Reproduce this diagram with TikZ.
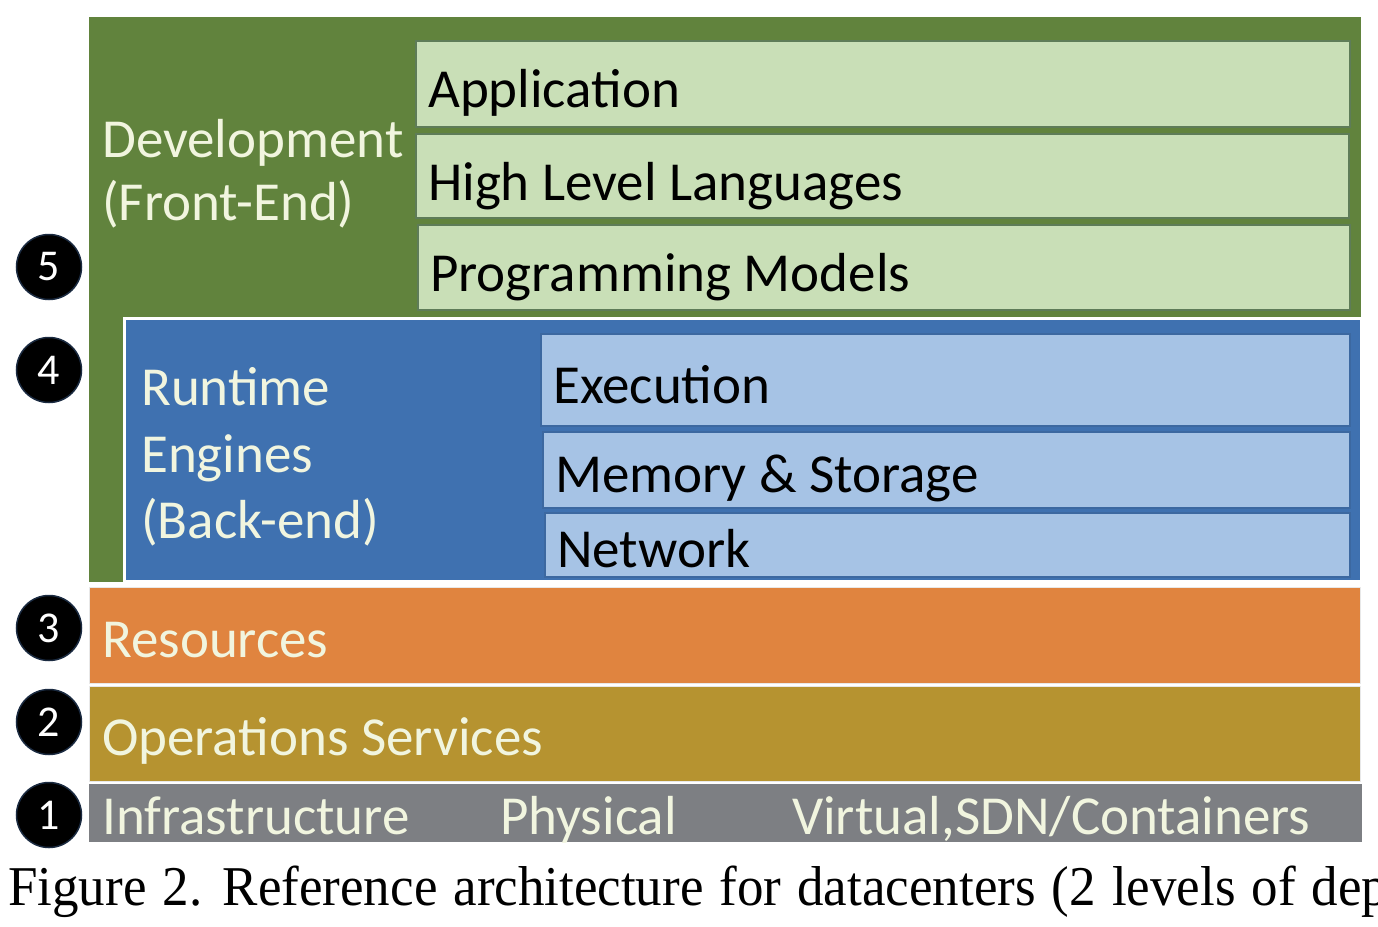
\documentclass[tikz,border=0pt]{standalone}
\usepackage{fontspec}
\setmainfont{Carlito}
\newfontfamily\capfont{Liberation Serif}
\usetikzlibrary{fit}
\definecolor{devgreen}{HTML}{61833D}
\definecolor{lightgreen}{HTML}{C9DFB7}
\definecolor{sepgreen}{HTML}{5E7C58}
\definecolor{rtblue}{HTML}{3F71B0}
\definecolor{lightblue}{HTML}{A6C3E5}
\definecolor{sepblue}{HTML}{3C68A0}
\definecolor{resorange}{HTML}{E0843F}
\definecolor{opsolive}{HTML}{B69330}
\definecolor{infgray}{HTML}{7D7F83}
\definecolor{lighttext}{HTML}{F1F5DF}
\definecolor{circedge}{HTML}{1A2A40}
\tikzset{
  layerbox/.style={rectangle, inner sep=0pt, outer sep=0pt},
  subgreen/.style={layerbox, fill=lightgreen, draw=sepgreen, line width=2pt},
  subblue/.style={layerbox, fill=lightblue, draw=sepblue, line width=2pt},
  darklbl/.style={inner sep=0pt, anchor=base west, text=lighttext, font=\fontsize{55}{66}\selectfont},
  blacklbl/.style={inner sep=0pt, anchor=base west, text=black, font=\fontsize{55}{66}\selectfont},
  numcirc/.style={circle, fill=black, draw=circedge, line width=1.5pt, minimum size=65pt, inner sep=0pt, text=white, font=\fontsize{44}{50}\selectfont}
}
\begin{document}
\begin{tikzpicture}[x=1pt,y=-1pt]
\useasboundingbox (0,0) rectangle (1378,926);
\clip (0,0) rectangle (1378,926);
% Layer 5: development (front-end)
\node[layerbox, fill=devgreen, fit={(89,17) (1361,582)}] (dev) {};
\node[subgreen, fit={(416,41) (1350,127)}] (app) {};
\node[subgreen, fit={(416,134) (1349,218)}] (hll) {};
\node[subgreen, fit={(418,225) (1350,310)}] (pm) {};
\node[darklbl] (devtxt) at (102,157) {Development};
\node[darklbl] (fetxt) at (102,220) {(Front-End)};
\node[blacklbl] (apptxt) at (428,107) {Application};
\node[blacklbl] (hlltxt) at (428,200) {High Level Languages};
\node[blacklbl] (pmtxt) at (430,291) {Programming Models};
% Layer 4: runtime engines (back-end)
\node[layerbox, fill=rtblue, draw=white, line width=3pt, fit={(124,318) (1361,581)}] (rt) {};
\node[subblue, fit={(541,334) (1350,426)}] (exec) {};
\node[subblue, fit={(543,432) (1350,508)}] (mem) {};
\node[subblue, fit={(545,513) (1350,577)}] (net) {};
\node[darklbl] (rttxt) at (141,405) {Runtime};
\node[darklbl] (engtxt) at (141,472) {Engines};
\node[darklbl] (betxt) at (141,538) {(Back-end)};
\node[blacklbl] (exectxt) at (553,403) {Execution};
\node[blacklbl] (memtxt) at (555,492) {Memory \& Storage};
\node[blacklbl] (nettxt) at (557,567) {Network};
% Layer 3: resources
\node[layerbox, fill=resorange, draw=white!82!gray, line width=1pt, fit={(89,587) (1360,683)}] (res) {};
\node[darklbl] (restxt) at (102,657) {Resources};
% Layer 2: operations services
\node[layerbox, fill=opsolive, draw=white!82!gray, line width=1pt, fit={(89,686) (1360,781)}] (ops) {};
\node[darklbl] (opstxt) at (102,755) {Operations Services};
% Layer 1: infrastructure
\node[layerbox, fill=infgray, fit={(89,784) (1362,842)}] (inf) {};
\begin{scope}
\clip (89,784) rectangle (1362,842);
\node[darklbl] (inftxt) at (102,834) {Infrastructure};
\node[darklbl] (phystxt) at (500,834) {Physical};
\node[darklbl] (virttxt) at (792,834) {Virtual,SDN/Containers};
\end{scope}
% numbered circles
\node[numcirc] (c5) at (49,267) {5};
\node[numcirc] (c4) at (49,370) {4};
\node[numcirc] (c3) at (49,628) {3};
\node[numcirc] (c2) at (49,722) {2};
\node[numcirc] (c1) at (49,815) {1};
% caption
\node[inner sep=0pt, anchor=base west, font=\capfont\fontsize{53}{60}\selectfont] (cap) at (8,905)
  {\scalebox{1}[1.06]{\spaceskip=16pt plus 0pt minus 0pt\relax Figure 2. Reference architecture for datacenters (2 levels of dep}};
\end{tikzpicture}
\end{document}
